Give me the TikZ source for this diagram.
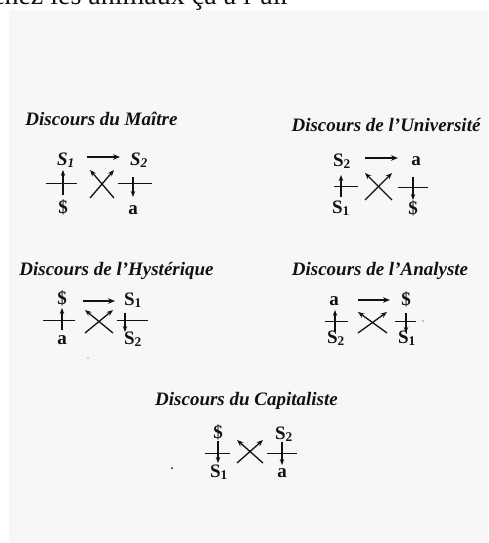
\documentclass[tikz,border=0pt]{standalone}
\usepackage{fontspec}
\setmainfont{Liberation Serif}
\usetikzlibrary{arrows.meta}
\definecolor{paper}{HTML}{F7F7F7}
\definecolor{ink}{HTML}{111111}
\begin{document}
\begin{tikzpicture}[x=1pt,y=-1pt,
  frag/.style={font=\fontsize{28}{30}\selectfont, inner sep=0pt, anchor=base east, text=ink},
  head/.style={font=\fontsize{19}{22}\selectfont\bfseries\itshape, inner sep=0pt, anchor=base, text=ink},
  sym/.style={font=\fontsize{19}{21}\selectfont\bfseries, inner sep=0pt, text height=12pt, text depth=0pt, anchor=base, text=ink},
  harrow/.style={draw=ink, line width=1.4pt, -{Stealth[length=7pt,width=5.5pt]}},
  varrow/.style={draw=ink, line width=1.2pt, -{Stealth[length=6pt,width=4.5pt]}},
  xarrow/.style={draw=ink, line width=1.3pt, -{Stealth[length=6.5pt,width=5pt]}},
  bar/.style={draw=ink, line width=1pt}]
\clip (0,0) rectangle (488,543);
\fill[paper] (9,10) rectangle (488,543);
\node[frag] (frag) at (290,5) {chez les animaux ça a l'air};

% ---------- Discours du Maitre
\node[head] (m-h) at (101.5,125) {Discours du Maître};
\node[sym] (m-tl) at (66,165) {\textit{S\textsubscript{1}}};
\node[sym] (m-tr) at (139,165) {\textit{S\textsubscript{2}}};
\node[sym] (m-bl) at (63,213) {\$};
\node[sym] (m-br) at (133,214) {a};
\draw[harrow] ([shift={(21,-2)}]m-tl.center) -- ([shift={(-19,-2)}]m-tr.center);
\draw[varrow] ([shift={(0,-12)}]m-bl.center) -- ([shift={(-3,11)}]m-tl.center);
\draw[varrow] ([shift={(-6,18)}]m-tr.center) -- ([shift={(0,-11)}]m-br.center);
\draw[bar] (46,183) -- (77,183);
\draw[bar] (118,183) -- (152,183);
\coordinate (m-x) at (102,184);
\draw[xarrow] ([shift={(12,14)}]m-x) -- ([shift={(-12,-14)}]m-x);
\draw[xarrow] ([shift={(-12,14)}]m-x) -- ([shift={(12,-14)}]m-x);

% ---------- Discours de l'Universite
\node[head] (u-h) at (386,131) {Discours de l'Université};
\node[sym] (u-tl) at (342,166) {S\textsubscript{2}};
\node[sym] (u-tr) at (416,165) {a};
\node[sym] (u-bl) at (341,213) {S\textsubscript{1}};
\node[sym] (u-br) at (413,214) {\$};
\draw[harrow] ([shift={(23,-2)}]u-tl.center) -- ([shift={(-18,-1)}]u-tr.center);
\draw[varrow] ([shift={(0,-10)}]u-bl.center) -- ([shift={(-1,15)}]u-tl.center);
\draw[varrow] ([shift={(-3,18)}]u-tr.center) -- ([shift={(0,-8)}]u-br.center);
\draw[bar] (334,186) -- (358,186);
\draw[bar] (398,187) -- (428,187);
\coordinate (u-x) at (378.5,186.5);
\draw[xarrow] ([shift={(13.5,13.5)}]u-x) -- ([shift={(-13.5,-13.5)}]u-x);
\draw[xarrow] ([shift={(-13.5,13.5)}]u-x) -- ([shift={(13.5,-13.5)}]u-x);

% ---------- Discours de l'Hysterique
\node[head] (h-h) at (116.5,275) {Discours de l'Hystérique};
\node[sym] (h-tl) at (62,304) {\$};
\node[sym] (h-tr) at (133,305) {S\textsubscript{1}};
\node[sym] (h-bl) at (62,344) {a};
\node[sym] (h-br) at (133,344) {S\textsubscript{2}};
\draw[harrow] ([shift={(21,3)}]h-tl.center) -- ([shift={(-18,2)}]h-tr.center);
\draw[varrow] ([shift={(0,-8)}]h-bl.center) -- ([shift={(0,10)}]h-tl.center);
\draw[varrow] ([shift={(-8,14)}]h-tr.center) -- ([shift={(-8,-6)}]h-br.center);
\draw[bar] (43,320) -- (75,320);
\draw[bar] (117,320) -- (148,320);
\coordinate (h-x) at (99,321.5);
\draw[xarrow] ([shift={(14,11.5)}]h-x) -- ([shift={(-14,-11.5)}]h-x);
\draw[xarrow] ([shift={(-14,11.5)}]h-x) -- ([shift={(14,-11.5)}]h-x);
\fill[gray!60] (88,358) circle (0.8);

% ---------- Discours de l'Analyste
\node[head] (a-h) at (380,275) {Discours de l'Analyste};
\node[sym] (a-tl) at (334,305) {a};
\node[sym] (a-tr) at (406,305) {\$};
\node[sym] (a-bl) at (336,343) {S\textsubscript{2}};
\node[sym] (a-br) at (407,343) {S\textsubscript{1}};
\draw[harrow] ([shift={(24,1)}]a-tl.center) -- ([shift={(-16,1)}]a-tr.center);
\draw[varrow] ([shift={(-1,-5)}]a-bl.center) -- ([shift={(1,11)}]a-tl.center);
\draw[varrow] ([shift={(0,14)}]a-tr.center) -- ([shift={(-1,-4)}]a-br.center);
\draw[bar] (325,321) -- (348,321);
\draw[bar] (395,321) -- (416,321);
\fill[ink] (423,321) circle (0.6);
\coordinate (a-x) at (372.5,322.5);
\draw[xarrow] ([shift={(14.5,10.5)}]a-x) -- ([shift={(-14.5,-10.5)}]a-x);
\draw[xarrow] ([shift={(-14.5,10.5)}]a-x) -- ([shift={(14.5,-10.5)}]a-x);

% ---------- Discours du Capitaliste
\node[head] (c-h) at (246.5,405) {Discours du Capitaliste};
\node[sym] (c-tl) at (218,438) {\$};
\node[sym] (c-tr) at (284,439) {S\textsubscript{2}};
\node[sym] (c-bl) at (219,477) {S\textsubscript{1}};
\node[sym] (c-br) at (282,477) {a};
\draw[varrow] ([shift={(0,9)}]c-tl.center) -- ([shift={(-1,-8)}]c-bl.center);
\draw[varrow] ([shift={(-2,9)}]c-tr.center) -- ([shift={(0,-6)}]c-br.center);
\draw[bar] (205,453) -- (230,453);
\draw[bar] (267,453) -- (297,453);
\coordinate (c-x) at (250,451.5);
\draw[xarrow] ([shift={(13,11.5)}]c-x) -- ([shift={(-13,-11.5)}]c-x);
\draw[xarrow] ([shift={(-13,11.5)}]c-x) -- ([shift={(13,-11.5)}]c-x);
\fill[ink] (172,468) circle (1);
\end{tikzpicture}
\end{document}
